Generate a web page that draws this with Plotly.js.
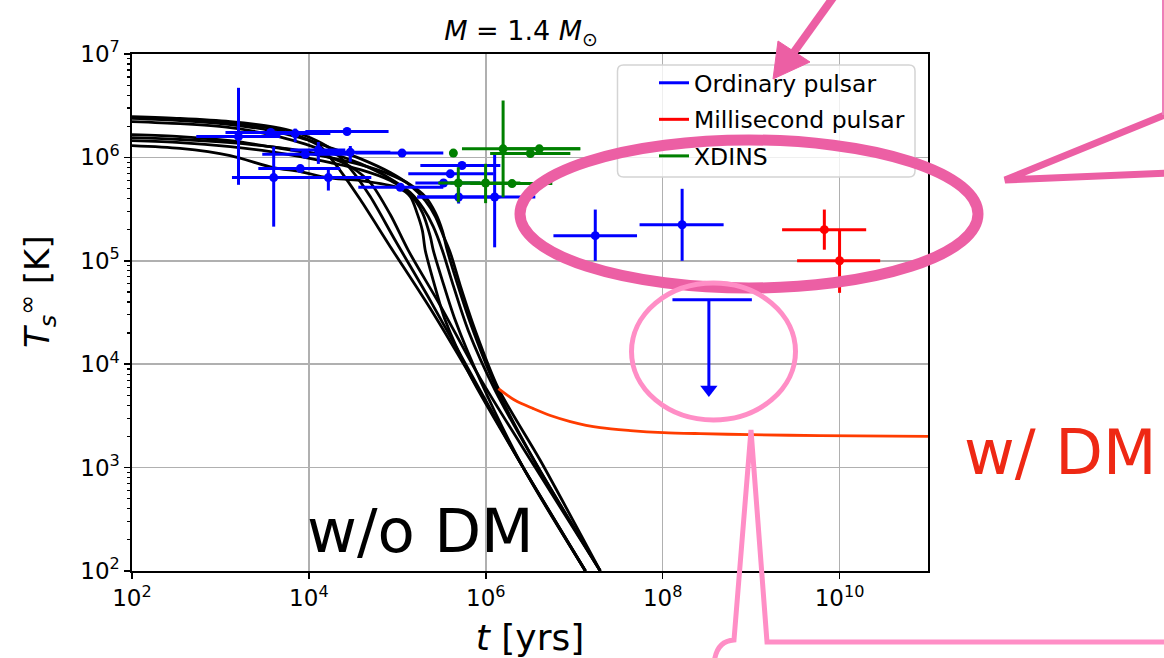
<!DOCTYPE html>
<html><head><meta charset="utf-8">
<script src="https://cdn.plot.ly/plotly-3.0.1.min.js"></script>
<style>html,body{margin:0;padding:0;background:#fff}#chart{width:1164px;height:658px}</style>
</head><body><div id="chart"></div>
<script>
// ---------------- data (t in years, T in K) ----------------
// Ordinary pulsars
const ordAge   = [1.6e3, 3.7e3, 4.0e3, 7.0e3, 2.7e4, 9.1e3, 1.28e4, 2.94e4, 1.13e5, 8.0e3, 1.66e4, 1.08e5, 5.38e5, 3.97e5, 3.33e5, 4.93e5, 1.26e6, 1.73e7, 1.66e8];
const ordAgeLo = [5.33e2, 1.14e3, 1.35e3, 3.21e3, 9.12e3, 2.97e3, 6.17e3, 1.35e4, 3.35e4, 2.68e3, 5.41e3, 3.62e4, 1.82e5, 1.33e5, 1.60e5, 1.68e5, 1.68e5, 5.82e6, 5.48e7];
const ordAgeHi = [4.75e3, 1.35e4, 1.35e4, 1.75e4, 7.96e4, 2.94e4, 2.58e4, 8.34e4, 3.31e5, 2.26e4, 5.08e4, 3.31e5, 1.46e6, 1.22e6, 8.67e5, 1.46e6, 3.63e6, 5.13e7, 4.89e8];
const ordT     = [1.59e6, 1.74e6, 6.38e5, 1.70e6, 1.78e6, 1.07e6, 1.18e6, 1.12e6, 1.10e6, 7.80e5, 6.38e5, 5.14e5, 8.34e5, 6.93e5, 5.65e5, 4.14e5, 4.14e5, 1.75e5, 2.23e5];
const ordTLo   = [5.43e5, 1.74e6, 2.14e5, 1.40e6, 1.78e6, 1.07e6, 8.65e5, 9.06e5, 1.10e6, 7.80e5, 4.78e5, 5.14e5, 8.34e5, 6.93e5, 5.65e5, 3.58e5, 1.35e5, 1.0e5, 1.0e5];
const ordTHi   = [4.71e6, 1.74e6, 1.27e6, 1.90e6, 1.78e6, 1.07e6, 1.41e6, 1.29e6, 1.10e6, 7.80e5, 7.98e5, 5.14e5, 8.34e5, 6.93e5, 5.65e5, 5.11e5, 1.09e6, 3.13e5, 4.97e5];
// Ordinary pulsar upper limit
const ulAge = 3.33e8, ulAgeLo = 1.29e8, ulAgeHi = 1.02e9, ulT = 4.19e4, ulArrowEnd = 5.7e3;
// Millisecond pulsars
const mspAge   = [6.73e9, 1.0e10];
const mspAgeLo = [2.24e9, 3.31e9];
const mspAgeHi = [2.0e10, 2.88e10];
const mspT     = [2.0e5, 1.0e5];
const mspTLo   = [1.28e5, 4.9e4];
const mspTHi   = [3.13e5, 2.0e5];
// XDINS
const xdAge   = [4.30e5, 1.57e6, 3.19e6, 4.03e6, 4.89e5, 9.95e5, 1.98e6];
const xdAgeLo = [4.30e5, 5.38e5, 1.12e6, 1.46e6, 2.90e5, 3.97e5, 6.68e5];
const xdAgeHi = [4.30e5, 1.17e7, 9.04e6, 1.17e7, 8.67e5, 2.46e6, 5.65e6];
const xdT     = [1.10e6, 1.21e6, 1.09e6, 1.21e6, 5.65e5, 5.65e5, 5.58e5];
const xdTLo   = [1.10e6, 4.12e5, 1.09e6, 1.21e6, 3.68e5, 3.61e5, 5.58e5];
const xdTHi   = [1.10e6, 3.55e6, 1.09e6, 1.21e6, 8.04e5, 8.67e5, 5.58e5];
// Cooling curves without DM
const ageA  = [1.0e2, 3.5e2, 1.29e3, 2.83e3, 5.41e3, 9.12e3, 1.35e4, 2.26e4, 3.81e4, 8.32e4, 2.36e5, 8.67e5, 2.65e6, 1.34e7];
const tempA = [2.43e6, 2.32e6, 2.17e6, 1.99e6, 1.78e6, 1.52e6, 1.27e6, 7.46e5, 3.91e5, 1.37e5, 3.45e4, 5.32e3, 1.0e3, 1.0e2];
const ageB  = [1.0e2, 3.5e2, 1.29e3, 3.21e3, 6.17e3, 1.04e4, 1.75e4, 2.94e4, 4.94e4, 9.48e4, 2.36e5, 8.67e5, 2.65e6, 1.34e7];
const tempB = [2.48e6, 2.38e6, 2.22e6, 2.03e6, 1.82e6, 1.55e6, 1.22e6, 7.8e5, 4.18e5, 1.57e5, 4.12e4, 5.56e3, 1.0e3, 1.0e2];
const ageC  = [1.0e2, 3.5e2, 1.29e3, 3.66e3, 8.0e3, 1.75e4, 2.94e4, 4.94e4, 8.32e4, 1.33e5, 3.06e5, 8.67e5, 3.63e6, 1.97e7];
const tempC = [1.55e6, 1.49e6, 1.39e6, 1.27e6, 1.16e6, 9.95e5, 8.15e5, 5.71e5, 2.80e5, 1.26e5, 3.69e4, 7.26e3, 1.0e3, 1.0e2];
const ageD  = [1.0e2, 3.5e2, 1.29e3, 3.96e3, 8.0e3, 1.61e4, 3.81e4, 1.0e5, 1.40e5, 1.68e5, 1.92e5, 2.07e5, 2.55e5, 3.49e5, 6.68e5, 1.46e6, 2.65e6, 1.34e7];
const tempD = [1.30e6, 1.22e6, 1.04e6, 7.96e5, 7.29e5, 6.38e5, 5.97e5, 5.11e5, 4.18e5, 2.86e5, 1.96e5, 1.26e5, 6.44e4, 2.64e4, 7.76e3, 2.38e3, 1.0e3, 1.0e2];
const ageE  = [1.0e2, 3.5e2, 1.29e3, 3.66e3, 8.0e3, 1.75e4, 3.81e4, 8.32e4, 1.40e5, 1.92e5, 2.36e5, 2.55e5, 3.23e5, 4.53e5, 8.67e5, 2.65e6, 1.34e7];
const tempE = [1.45e6, 1.39e6, 1.27e6, 1.14e6, 1.02e6, 8.9e5, 7.62e5, 5.97e5, 4.37e5, 2.93e5, 1.71e5, 1.26e5, 6.44e4, 2.64e4, 6.95e3, 1.0e3, 1.0e2];
const ageF  = [1.0e2, 3.5e2, 1.29e3, 3.66e3, 8.0e3, 1.75e4, 3.81e4, 8.32e4, 1.40e5, 2.07e5, 2.69e5, 3.23e5, 3.67e5, 4.65e5, 6.68e5, 1.28e6, 3.63e6, 1.97e7];
const tempF = [1.66e6, 1.59e6, 1.45e6, 1.27e6, 1.14e6, 9.95e5, 8.51e5, 6.82e5, 5.46e5, 4.18e5, 2.93e5, 1.96e5, 1.26e5, 6.44e4, 2.52e4, 6.21e3, 1.12e3, 1.0e2];
const ageG  = [1.0e2, 3.5e2, 1.29e3, 3.66e3, 8.0e3, 1.75e4, 3.81e4, 8.32e4, 1.40e5, 1.97e5, 2.55e5, 3.23e5, 4.19e5, 6.35e5, 1.28e6, 3.63e6, 1.97e7];
const tempG = [2.22e6, 2.12e6, 1.94e6, 1.66e6, 1.39e6, 1.11e6, 8.7e5, 6.24e5, 4.57e5, 3.20e5, 2.14e5, 1.26e5, 6.15e4, 2.11e4, 5.56e3, 1.12e3, 1.0e2];
const ageH  = [1.0e2, 3.5e2, 1.29e3, 3.66e3, 8.0e3, 1.75e4, 3.81e4, 8.32e4, 1.40e5, 2.07e5, 2.69e5, 3.31e5, 3.97e5, 5.15e5, 7.62e5, 1.39e6, 4.14e6, 1.97e7];
const tempH = [2.38e6, 2.27e6, 2.08e6, 1.82e6, 1.55e6, 1.24e6, 9.73e5, 7.13e5, 5.35e5, 3.82e5, 2.68e5, 1.75e5, 1.20e5, 5.75e4, 2.11e4, 5.81e3, 1.17e3, 1.0e2];
// Cooling curve with DM heating
const dmAge  = [1.39e6, 2.16e6, 3.45e6, 5.37e6, 9.04e6, 1.97e7, 4.31e7, 1.02e8, 2.67e8, 9.8e8, 6.07e9, 1.0e11];
const dmTemp = [5.81e3, 4.45e3, 3.72e3, 3.19e3, 2.79e3, 2.43e3, 2.28e3, 2.18e3, 2.13e3, 2.08e3, 2.04e3, 2.0e3];
// axis ticks
const xTickVals = [1e2, 1e4, 1e6, 1e8, 1e10];
const xTickText = ['10<sup>2</sup>', '10<sup>4</sup>', '10<sup>6</sup>', '10<sup>8</sup>', '10<sup>10</sup>'];
const yTickVals = [1e2, 1e3, 1e4, 1e5, 1e6, 1e7];
const yTickText = ['10<sup>2</sup>', '10<sup>3</sup>', '10<sup>4</sup>', '10<sup>5</sup>', '10<sup>6</sup>', '10<sup>7</sup>'];
const legendNames = ['Ordinary pulsar', 'Millisecond pulsar', 'XDINS'];

// ---------------- helpers ----------------
const plus  = (v, hi) => v.map((x, i) => hi[i] - x);
const minus = (v, lo) => v.map((x, i) => x - lo[i]);
const BLUE = '#0000ff', RED = '#ff0000', GREEN = '#008000';
const FONT = 'DejaVu Sans, Liberation Sans, sans-serif';

function errPoints(age, ageLo, ageHi, T, TLo, THi, color) {
  return {
    type: 'scatter', mode: 'markers', x: age, y: T, showlegend: false, hoverinfo: 'x+y',
    marker: {color: color, size: 9},
    error_x: {type: 'data', symmetric: false, array: plus(age, ageHi), arrayminus: minus(age, ageLo), color: color, thickness: 3, width: 0},
    error_y: {type: 'data', symmetric: false, array: plus(T, THi), arrayminus: minus(T, TLo), color: color, thickness: 3, width: 0}
  };
}
function curve(x, y, color) {
  return {type: 'scatter', mode: 'lines', x: x, y: y, showlegend: false, hoverinfo: 'skip',
    line: {color: color, width: 2.8, shape: 'spline', smoothing: 0.8}};
}

const traces = [
  curve(ageA, tempA, 'black'), curve(ageB, tempB, 'black'), curve(ageC, tempC, 'black'),
  curve(ageD, tempD, 'black'), curve(ageE, tempE, 'black'), curve(ageF, tempF, 'black'),
  curve(ageG, tempG, 'black'), curve(ageH, tempH, 'black'),
  curve(dmAge, dmTemp, '#ff3c00'),
  errPoints(ordAge, ordAgeLo, ordAgeHi, ordT, ordTLo, ordTHi, BLUE),
  errPoints(mspAge, mspAgeLo, mspAgeHi, mspT, mspTLo, mspTHi, RED),
  errPoints(xdAge, xdAgeLo, xdAgeHi, xdT, xdTLo, xdTHi, GREEN),
  // upper limit: horizontal bar, downward arrow
  {type: 'scatter', mode: 'lines', x: [ulAgeLo, ulAgeHi], y: [ulT, ulT], showlegend: false, hoverinfo: 'skip', line: {color: BLUE, width: 3}},
  {type: 'scatter', mode: 'lines', x: [ulAge, ulAge], y: [ulT, ulArrowEnd], showlegend: false, hoverinfo: 'skip', line: {color: BLUE, width: 3}},
  {type: 'scatter', mode: 'markers', x: [ulAge], y: [ulArrowEnd], showlegend: false, hoverinfo: 'skip', marker: {symbol: 'triangle-down', size: 15, color: BLUE}},
  // legend entries
  {type: 'scatter', mode: 'lines', x: [null], y: [null], name: legendNames[0], legendgroup: 'a', line: {color: BLUE, width: 3}},
  {type: 'scatter', mode: 'lines', x: [null], y: [null], name: legendNames[1], legendgroup: 'b', line: {color: RED, width: 3}},
  {type: 'scatter', mode: 'lines', x: [null], y: [null], name: legendNames[2], legendgroup: 'c', line: {color: GREEN, width: 3}}
];

// ---------------- decoration (pixel -> paper) ----------------
const ML = 132, MT = 54, PW = 796, PH = 517;
const px = x => (x - ML) / PW;
const py = y => (MT + PH - y) / PH;
function pathPx(cmds) {
  let s = '', i = 0;
  while (i < cmds.length) {
    if (typeof cmds[i] === 'string') { s += cmds[i] + ' '; i++; }
    else { s += px(cmds[i]).toFixed(5) + ',' + py(cmds[i + 1]).toFixed(5) + ' '; i += 2; }
  }
  return s.trim();
}
const PINK = '#ec5fa4', LPINK = '#ff8ec6';
const shapes = [
  {type: 'path', xref: 'paper', yref: 'paper', layer: 'above',
   path: pathPx(['M', 623.5, 65, 'L', 909, 65, 'Q', 915, 65, 915, 71, 'L', 915, 171, 'Q', 915, 177, 909, 177, 'L', 623.5, 177, 'Q', 617.5, 177, 617.5, 171, 'L', 617.5, 71, 'Q', 617.5, 65, 623.5, 65, 'Z']),
   fillcolor: 'rgba(255,255,255,0.8)', line: {color: '#d4d4d4', width: 1.5}},
  {type: 'circle', xref: 'paper', yref: 'paper', layer: 'above', x0: px(520), x1: px(978), y0: py(288), y1: py(140), line: {color: PINK, width: 11}},
  {type: 'circle', xref: 'paper', yref: 'paper', layer: 'above', x0: px(631.5), x1: px(795.5), y0: py(420), y1: py(283), line: {color: LPINK, width: 5}},
  {type: 'line', xref: 'paper', yref: 'paper', layer: 'above', x0: px(840), y0: py(-12), x1: px(794), y1: py(52), line: {color: PINK, width: 8}},
  {type: 'path', xref: 'paper', yref: 'paper', layer: 'above', path: pathPx(['M', 778, 41, 'L', 810, 62, 'L', 773, 79, 'Z']), fillcolor: PINK, line: {color: PINK, width: 1}},
  {type: 'path', xref: 'paper', yref: 'paper', layer: 'above', path: pathPx(['M', 1172, 112, 'L', 1005, 180, 'L', 1172, 173]), fillcolor: 'rgba(0,0,0,0)', line: {color: PINK, width: 7}},
  {type: 'line', xref: 'paper', yref: 'paper', layer: 'above', x0: px(1163), y0: py(-5), x1: px(1163), y1: py(115), line: {color: '#ee7fb8', width: 2}},
  {type: 'path', xref: 'paper', yref: 'paper', layer: 'above', path: pathPx(['M', 714, 664, 'Q', 716, 641, 734, 640, 'L', 751, 430, 'L', 767, 642, 'L', 1172, 642]), fillcolor: 'rgba(0,0,0,0)', line: {color: LPINK, width: 5}}
];
const annotations = [
  {xref: 'paper', yref: 'paper', x: px(420), y: py(530), text: 'w/o DM', showarrow: false, xanchor: 'center', yanchor: 'middle',
   font: {family: 'Comic Sans MS, DejaVu Sans, sans-serif', size: 61, color: 'black'}},
  {xref: 'paper', yref: 'paper', x: px(1060), y: py(452), text: 'w/ DM', showarrow: false, xanchor: 'center', yanchor: 'middle',
   font: {family: 'Comic Sans MS, DejaVu Sans, sans-serif', size: 62, color: '#ee2814'}},
  {xref: 'paper', yref: 'paper', x: px(37), y: py(292), text: '<i>T</i><sub><i>s</i></sub><sup>∞</sup> [K]', showarrow: false,
   textangle: -90, xanchor: 'center', yanchor: 'middle', font: {family: FONT, size: 34, color: 'black'}}
];

const axisCommon = {
  type: 'log', showgrid: true, gridcolor: '#b0b0b0', gridwidth: 1.5, zeroline: false,
  showline: true, mirror: true, linecolor: 'black', linewidth: 1.6,
  ticks: 'outside', ticklen: 6, tickwidth: 1.5, tickcolor: 'black',
  tickfont: {family: FONT, size: 23, color: 'black'}, tickmode: 'array'
};
const layout = {
  width: 1164, height: 658, paper_bgcolor: 'white', plot_bgcolor: 'white',
  margin: {l: ML, r: 1164 - ML - PW, t: MT, b: 658 - MT - PH},
  font: {family: FONT, color: 'black'},
  title: {text: '<i>M</i> = 1.4 <i>M</i><sub>⊙</sub>', font: {family: FONT, size: 27, color: 'black'},
          x: px(521), xref: 'paper', xanchor: 'center', y: 1 - 31 / 658, yanchor: 'middle'},
  xaxis: Object.assign({}, axisCommon, {range: [2, 11], tickvals: xTickVals, ticktext: xTickText,
          title: {text: '<i>t</i> [yrs]', font: {family: FONT, size: 36, color: 'black'}, standoff: 14}}),
  yaxis: Object.assign({}, axisCommon, {range: [2, 7], tickvals: yTickVals, ticktext: yTickText,
          minor: {ticks: 'outside', ticklen: 3.5, tickwidth: 1.2, tickcolor: 'black', dtick: 'D1', showgrid: false}}),
  showlegend: true,
  legend: {x: px(654), y: py(61), xanchor: 'left', yanchor: 'top', bgcolor: 'rgba(0,0,0,0)', borderwidth: 0,
           font: {family: FONT, size: 23.5, color: 'black'}, traceorder: 'grouped', tracegroupgap: 3},
  shapes: shapes, annotations: annotations
};
Plotly.newPlot('chart', traces, layout, {displayModeBar: false, staticPlot: true});
</script></body></html>
